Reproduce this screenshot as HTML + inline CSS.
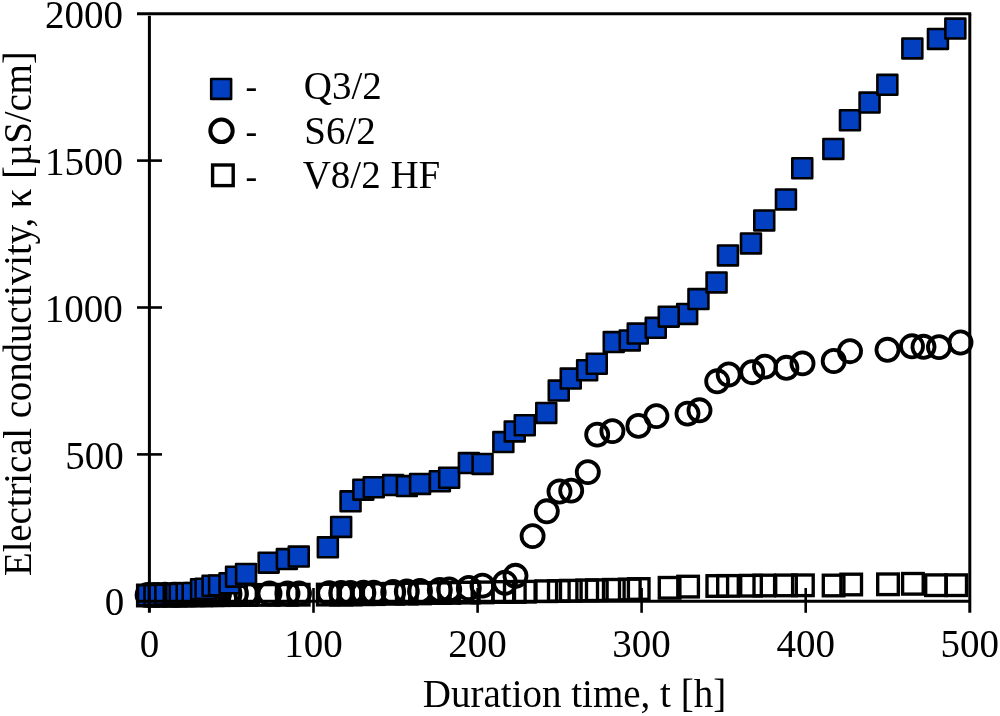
<!DOCTYPE html>
<html lang="en">
<head>
<meta charset="utf-8">
<title>Electrical conductivity vs duration time</title>
<style>
html,body{margin:0;padding:0;background:#fff;}
body{width:1000px;height:716px;overflow:hidden;}
svg{display:block;}
text{font-family:"Liberation Serif","Times New Roman",Times,serif;fill:#000;}
.tick{font-size:39px;}
.ttl{font-size:39px;}
.leg{font-size:39px;}
</style>
</head>
<body>
<svg width="1000" height="716" viewBox="0 0 1000 716">
<rect x="0" y="0" width="1000" height="716" fill="#ffffff"/>

<g fill="none" stroke="#000" stroke-width="3.35">
<rect x="137.6" y="585.2" width="20.6" height="20.6"/>
<rect x="144.1" y="585.2" width="20.6" height="20.6"/>
<rect x="148.6" y="585.1" width="20.6" height="20.6"/>
<rect x="155.0" y="585.1" width="20.6" height="20.6"/>
<rect x="163.4" y="585.1" width="20.6" height="20.6"/>
<rect x="165.9" y="585.0" width="20.6" height="20.6"/>
<rect x="169.4" y="585.0" width="20.6" height="20.6"/>
<rect x="176.3" y="585.0" width="20.6" height="20.6"/>
<rect x="182.3" y="585.0" width="20.6" height="20.6"/>
<rect x="190.7" y="584.9" width="20.6" height="20.6"/>
<rect x="195.2" y="584.9" width="20.6" height="20.6"/>
<rect x="202.2" y="584.9" width="20.6" height="20.6"/>
<rect x="208.7" y="584.8" width="20.6" height="20.6"/>
<rect x="219.2" y="584.8" width="20.6" height="20.6"/>
<rect x="225.7" y="584.7" width="20.6" height="20.6"/>
<rect x="235.7" y="584.7" width="20.6" height="20.6"/>
<rect x="258.3" y="584.6" width="20.6" height="20.6"/>
<rect x="276.5" y="584.5" width="20.6" height="20.6"/>
<rect x="288.4" y="584.4" width="20.6" height="20.6"/>
<rect x="317.5" y="584.3" width="20.6" height="20.6"/>
<rect x="330.9" y="584.3" width="20.6" height="20.6"/>
<rect x="340.2" y="584.2" width="20.6" height="20.6"/>
<rect x="353.1" y="583.9" width="20.6" height="20.6"/>
<rect x="363.4" y="583.8" width="20.6" height="20.6"/>
<rect x="382.9" y="583.5" width="20.6" height="20.6"/>
<rect x="396.5" y="583.3" width="20.6" height="20.6"/>
<rect x="409.7" y="583.1" width="20.6" height="20.6"/>
<rect x="429.5" y="582.7" width="20.6" height="20.6"/>
<rect x="438.9" y="582.6" width="20.6" height="20.6"/>
<rect x="458.5" y="582.3" width="20.6" height="20.6"/>
<rect x="472.2" y="582.1" width="20.6" height="20.6"/>
<rect x="493.1" y="581.7" width="20.6" height="20.6"/>
<rect x="504.5" y="581.6" width="20.6" height="20.6"/>
<rect x="514.5" y="581.4" width="20.6" height="20.6"/>
<rect x="536.0" y="580.9" width="20.6" height="20.6"/>
<rect x="548.5" y="580.7" width="20.6" height="20.6"/>
<rect x="560.5" y="580.4" width="20.6" height="20.6"/>
<rect x="576.9" y="580.1" width="20.6" height="20.6"/>
<rect x="586.5" y="579.9" width="20.6" height="20.6"/>
<rect x="603.5" y="579.5" width="20.6" height="20.6"/>
<rect x="619.5" y="579.2" width="20.6" height="20.6"/>
<rect x="628.4" y="578.7" width="20.6" height="20.6"/>
<rect x="659.3" y="577.5" width="20.6" height="20.6"/>
<rect x="677.8" y="576.3" width="20.6" height="20.6"/>
<rect x="707.0" y="575.7" width="20.6" height="20.6"/>
<rect x="717.7" y="575.6" width="20.6" height="20.6"/>
<rect x="740.7" y="575.4" width="20.6" height="20.6"/>
<rect x="754.0" y="575.2" width="20.6" height="20.6"/>
<rect x="775.7" y="575.1" width="20.6" height="20.6"/>
<rect x="792.6" y="575.0" width="20.6" height="20.6"/>
<rect x="823.3" y="575.2" width="20.6" height="20.6"/>
<rect x="840.9" y="574.2" width="20.6" height="20.6"/>
<rect x="877.7" y="574.0" width="20.6" height="20.6"/>
<rect x="902.6" y="573.5" width="20.6" height="20.6"/>
<rect x="925.7" y="574.9" width="20.6" height="20.6"/>
<rect x="945.9" y="574.9" width="20.6" height="20.6"/>
</g>
<g fill="none" stroke="#000" stroke-width="3.8">
<circle cx="147.6" cy="594.9" r="11.05"/>
<circle cx="154.0" cy="594.9" r="11.05"/>
<circle cx="158.5" cy="594.9" r="11.05"/>
<circle cx="165.0" cy="594.8" r="11.05"/>
<circle cx="173.5" cy="594.8" r="11.05"/>
<circle cx="176.0" cy="594.7" r="11.05"/>
<circle cx="179.5" cy="594.7" r="11.05"/>
<circle cx="186.5" cy="594.6" r="11.05"/>
<circle cx="192.5" cy="594.5" r="11.05"/>
<circle cx="201.0" cy="594.4" r="11.05"/>
<circle cx="205.5" cy="594.3" r="11.05"/>
<circle cx="212.5" cy="594.2" r="11.05"/>
<circle cx="219.0" cy="594.1" r="11.05"/>
<circle cx="229.5" cy="593.9" r="11.05"/>
<circle cx="236.0" cy="593.7" r="11.05"/>
<circle cx="246.3" cy="593.6" r="11.05"/>
<circle cx="269.5" cy="593.5" r="11.05"/>
<circle cx="287.5" cy="593.5" r="11.05"/>
<circle cx="299.0" cy="593.4" r="11.05"/>
<circle cx="329.2" cy="593.1" r="11.05"/>
<circle cx="341.2" cy="593.0" r="11.05"/>
<circle cx="350.5" cy="592.9" r="11.05"/>
<circle cx="363.4" cy="592.8" r="11.05"/>
<circle cx="373.7" cy="592.6" r="11.05"/>
<circle cx="393.2" cy="592.0" r="11.05"/>
<circle cx="406.8" cy="591.5" r="11.05"/>
<circle cx="420.0" cy="591.0" r="11.05"/>
<circle cx="439.8" cy="590.0" r="11.05"/>
<circle cx="449.2" cy="589.5" r="11.05"/>
<circle cx="468.8" cy="588.0" r="11.05"/>
<circle cx="482.5" cy="585.6" r="11.05"/>
<circle cx="505.0" cy="582.8" r="11.05"/>
<circle cx="515.5" cy="575.8" r="11.05"/>
<circle cx="532.6" cy="536.1" r="11.05"/>
<circle cx="546.8" cy="511.3" r="11.05"/>
<circle cx="559.5" cy="491.5" r="11.05"/>
<circle cx="571.2" cy="490.6" r="11.05"/>
<circle cx="587.8" cy="472.1" r="11.05"/>
<circle cx="597.2" cy="434.6" r="11.05"/>
<circle cx="612.4" cy="431.1" r="11.05"/>
<circle cx="638.4" cy="425.9" r="11.05"/>
<circle cx="656.4" cy="416.1" r="11.05"/>
<circle cx="687.5" cy="413.6" r="11.05"/>
<circle cx="699.5" cy="410.3" r="11.05"/>
<circle cx="717.2" cy="381.3" r="11.05"/>
<circle cx="728.7" cy="374.5" r="11.05"/>
<circle cx="752.2" cy="372.2" r="11.05"/>
<circle cx="765.0" cy="366.6" r="11.05"/>
<circle cx="786.4" cy="367.8" r="11.05"/>
<circle cx="802.5" cy="363.4" r="11.05"/>
<circle cx="833.7" cy="361.0" r="11.05"/>
<circle cx="850.0" cy="351.2" r="11.05"/>
<circle cx="887.5" cy="349.8" r="11.05"/>
<circle cx="912.0" cy="346.3" r="11.05"/>
<circle cx="923.5" cy="346.8" r="11.05"/>
<circle cx="939.0" cy="347.1" r="11.05"/>
<circle cx="960.5" cy="342.5" r="11.05"/>
</g>
<g fill="#0340c1" stroke="#000" stroke-width="2.6" stroke-linejoin="round">
<rect x="138.0" y="585.3" width="19.9" height="19.9"/>
<rect x="144.5" y="585.1" width="19.9" height="19.9"/>
<rect x="149.0" y="585.0" width="19.9" height="19.9"/>
<rect x="155.4" y="584.7" width="19.9" height="19.9"/>
<rect x="163.8" y="584.3" width="19.9" height="19.9"/>
<rect x="166.2" y="584.1" width="19.9" height="19.9"/>
<rect x="169.8" y="583.9" width="19.9" height="19.9"/>
<rect x="176.7" y="583.4" width="19.9" height="19.9"/>
<rect x="182.7" y="583.0" width="19.9" height="19.9"/>
<rect x="191.1" y="579.3" width="19.9" height="19.9"/>
<rect x="195.6" y="578.8" width="19.9" height="19.9"/>
<rect x="202.6" y="575.8" width="19.9" height="19.9"/>
<rect x="209.1" y="575.5" width="19.9" height="19.9"/>
<rect x="219.6" y="573.3" width="19.9" height="19.9"/>
<rect x="226.1" y="566.7" width="19.9" height="19.9"/>
<rect x="236.1" y="564.0" width="19.9" height="19.9"/>
<rect x="258.7" y="552.7" width="19.9" height="19.9"/>
<rect x="276.9" y="549.1" width="19.9" height="19.9"/>
<rect x="288.8" y="546.6" width="19.9" height="19.9"/>
<rect x="317.9" y="537.4" width="19.9" height="19.9"/>
<rect x="331.2" y="517.0" width="19.9" height="19.9"/>
<rect x="340.6" y="491.4" width="19.9" height="19.9"/>
<rect x="353.4" y="479.7" width="19.9" height="19.9"/>
<rect x="363.8" y="477.3" width="19.9" height="19.9"/>
<rect x="383.2" y="475.1" width="19.9" height="19.9"/>
<rect x="396.9" y="476.1" width="19.9" height="19.9"/>
<rect x="410.1" y="474.0" width="19.9" height="19.9"/>
<rect x="429.9" y="471.3" width="19.9" height="19.9"/>
<rect x="439.2" y="467.8" width="19.9" height="19.9"/>
<rect x="458.9" y="453.1" width="19.9" height="19.9"/>
<rect x="472.6" y="454.0" width="19.9" height="19.9"/>
<rect x="493.4" y="432.1" width="19.9" height="19.9"/>
<rect x="504.8" y="421.5" width="19.9" height="19.9"/>
<rect x="514.8" y="415.3" width="19.9" height="19.9"/>
<rect x="536.3" y="403.0" width="19.9" height="19.9"/>
<rect x="548.8" y="380.6" width="19.9" height="19.9"/>
<rect x="560.8" y="368.6" width="19.9" height="19.9"/>
<rect x="577.2" y="360.3" width="19.9" height="19.9"/>
<rect x="586.8" y="353.8" width="19.9" height="19.9"/>
<rect x="603.8" y="332.1" width="19.9" height="19.9"/>
<rect x="619.8" y="330.5" width="19.9" height="19.9"/>
<rect x="627.8" y="323.6" width="19.9" height="19.9"/>
<rect x="645.8" y="317.9" width="19.9" height="19.9"/>
<rect x="677.2" y="304.0" width="19.9" height="19.9"/>
<rect x="658.8" y="306.7" width="19.9" height="19.9"/>
<rect x="688.5" y="289.1" width="19.9" height="19.9"/>
<rect x="706.6" y="272.5" width="19.9" height="19.9"/>
<rect x="718.0" y="245.5" width="19.9" height="19.9"/>
<rect x="741.0" y="233.5" width="19.9" height="19.9"/>
<rect x="754.3" y="210.5" width="19.9" height="19.9"/>
<rect x="776.0" y="189.5" width="19.9" height="19.9"/>
<rect x="792.3" y="158.3" width="19.9" height="19.9"/>
<rect x="823.4" y="139.0" width="19.9" height="19.9"/>
<rect x="840.0" y="110.3" width="19.9" height="19.9"/>
<rect x="859.6" y="92.6" width="19.9" height="19.9"/>
<rect x="877.4" y="74.9" width="19.9" height="19.9"/>
<rect x="902.4" y="38.5" width="19.9" height="19.9"/>
<rect x="928.0" y="29.0" width="19.9" height="19.9"/>
<rect x="945.4" y="18.6" width="19.9" height="19.9"/>
</g>
<g stroke="#000" stroke-width="3" fill="none">
<line x1="137" y1="13.8" x2="971.2" y2="13.8"/>
<line x1="149.4" y1="15.8" x2="149.4" y2="612.8"/>
<line x1="969.8" y1="13.8" x2="969.8" y2="612.8"/>
<line x1="137" y1="601.2" x2="969.8" y2="601.2"/>
<line x1="313.5" y1="588" x2="313.5" y2="612.8" stroke-width="2.6"/>
<line x1="477.6" y1="588" x2="477.6" y2="612.8" stroke-width="2.6"/>
<line x1="641.6" y1="588" x2="641.6" y2="612.8" stroke-width="2.6"/>
<line x1="805.7" y1="588" x2="805.7" y2="612.8" stroke-width="2.6"/>
<line x1="137" y1="454.4" x2="162" y2="454.4" stroke-width="2.6"/>
<line x1="137" y1="307.5" x2="162" y2="307.5" stroke-width="2.6"/>
<line x1="137" y1="160.6" x2="162" y2="160.6" stroke-width="2.6"/>
</g>
<text class="tick" x="149.4" y="656.6" text-anchor="middle">0</text>
<text class="tick" x="313.5" y="656.6" text-anchor="middle">100</text>
<text class="tick" x="477.6" y="656.6" text-anchor="middle">200</text>
<text class="tick" x="641.6" y="656.6" text-anchor="middle">300</text>
<text class="tick" x="805.7" y="656.6" text-anchor="middle">400</text>
<text class="tick" x="969.8" y="656.6" text-anchor="middle">500</text>
<text class="tick" x="122.9" y="28.1" text-anchor="end">2000</text>
<text class="tick" x="122.9" y="174.9" text-anchor="end">1500</text>
<text class="tick" x="122.7" y="321.7" text-anchor="end">1000</text>
<text class="tick" x="123.8" y="468.5" text-anchor="end">500</text>
<text class="tick" x="124.2" y="615.3" text-anchor="end">0</text>
<text class="ttl" x="574.5" y="707" text-anchor="middle">Duration time, t [h]</text>
<text class="ttl" transform="translate(31.1,313.7) rotate(-90)" text-anchor="middle" style="letter-spacing:-0.13px">Electrical conductivity, κ [µS/cm]</text>
<rect x="211.2" y="79.0" width="19.9" height="19.9" fill="#0340c1" stroke="#000" stroke-width="2.6" stroke-linejoin="round"/>
<circle cx="221.5" cy="130.8" r="11.20" fill="none" stroke="#000" stroke-width="4"/>
<rect x="212.6" y="165.0" width="20.6" height="20.6" fill="none" stroke="#000" stroke-width="3.4"/>
<text class="leg" x="245.6" y="98.0" style="font-size:35px">-</text>
<text class="leg" x="303.8" y="98.8">Q3/2</text>
<text class="leg" x="245.6" y="142.8" style="font-size:35px">-</text>
<text class="leg" x="304.3" y="143.6">S6/2</text>
<text class="leg" x="245.6" y="187.6" style="font-size:35px">-</text>
<text class="leg" x="302.7" y="188.4">V8/2 HF</text>
</svg>
</body>
</html>
